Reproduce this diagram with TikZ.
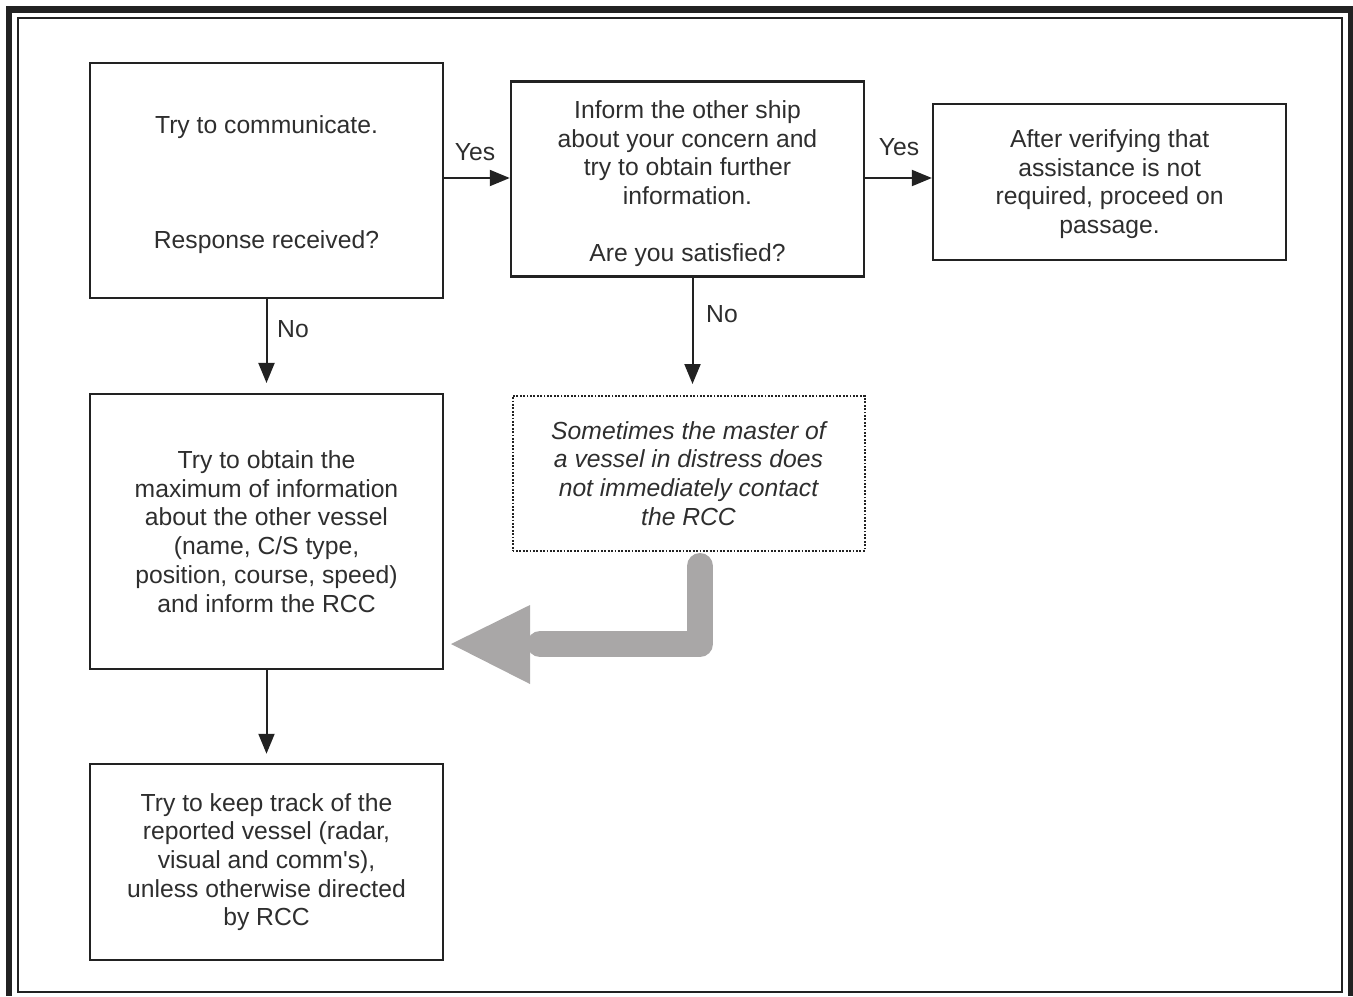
\documentclass[tikz,border=0pt]{standalone}
\usepackage{fontspec}
\setmainfont{Liberation Sans}[Ligatures=TeXOff]
\usetikzlibrary{arrows.meta}
\definecolor{ink}{HTML}{222222}
\definecolor{txt}{HTML}{2E2E2E}
\definecolor{bigarrow}{HTML}{A9A7A7}
\newcommand{\lowerby}[1]{\rule{0pt}{#1}}
\tikzset{
  flowbox/.style={draw=ink, line width=1.25pt, align=center, text=txt, inner sep=0pt,
    font=\fontsize{12.35pt}{14.35pt}\selectfont},
  notebox/.style={flowbox, line width=1pt, dash pattern=on 0.9pt off 0.8pt,
    font=\fontsize{12.35pt}{14.35pt}\selectfont\itshape},
  flowarrow/.style={draw=ink, line width=1pt, -{Triangle[length=10pt,width=8pt]}},
  lbl/.style={text=txt, inner sep=0pt, font=\fontsize{12.35pt}{14.35pt}\selectfont}
}
\begin{document}
\begin{tikzpicture}[x=0.5pt,y=-0.5pt]
\useasboundingbox (0,0) rectangle (1353,996);
% frame
\fill[ink] (6,6) rectangle (1353,12.5);
\fill[ink] (6,6) rectangle (12.3,996);
\fill[ink] (1347.8,6) rectangle (1353,996);
\draw[ink, line width=0.7pt] (18,18) rectangle (1342,992);
% boxes
\node[flowbox, minimum width=176.5pt, minimum height=117.5pt] (b1) at (266.5,180.5)
  {\lowerby{12.9pt}Try to communicate.\\[43.05pt]Response received?};
\node[flowbox, minimum width=176.5pt, minimum height=97.5pt] (b2) at (687.5,179.2)
  {\lowerby{13.5pt}Inform the other ship\\about your concern and\\try to obtain further\\information.\\[14.35pt]Are you satisfied?};
\node[flowbox, minimum width=176.5pt, minimum height=78pt] (b3) at (1109.6,182)
  {\lowerby{11pt}After verifying that\\assistance is not\\required, proceed on\\passage.};
\node[flowbox, minimum width=176.5pt, minimum height=137.3pt] (b4) at (266.5,531.5)
  {Try to obtain the\\maximum of information\\about the other vessel\\(name, C/S type,\\position, course, speed)\\and inform the RCC};
\node[notebox, minimum width=176pt, minimum height=77.5pt] (b5) at (688.5,473.5)
  {Sometimes the master of\\a vessel in distress does\\not immediately contact\\the RCC};
\node[flowbox, minimum width=176.5pt, minimum height=98pt] (b6) at (266.5,862)
  {Try to keep track of the\\reported vessel (radar,\\visual and comm's),\\unless otherwise directed\\by RCC};
% connectors
\draw[flowarrow] (b1.east |- 0,178) -- (b2.west |- 0,178);
\draw[flowarrow] (b2.east |- 0,178) -- (b3.west |- 0,178);
\draw[flowarrow, shorten >=5pt] (b1.south) -- (b4.north);
\draw[flowarrow, shorten >=5.5pt] (b2.south -| 692.5,0) -- (b5.north -| 692.5,0);
\draw[flowarrow, shorten >=4.5pt] (b4.south) -- (b6.north);
% labels
\node[lbl] (y1) at (475,152) {Yes};
\node[lbl] (y2) at (899,147) {Yes};
\node[lbl] (n1) at (293,329) {No};
\node[lbl] (n2) at (722,314) {No};
% big grey arrow from note to box 4
\coordinate (ga1) at (700,566);
\coordinate (ga2) at (700,644);
\coordinate (ga3) at (540,644);
\draw[bigarrow, line width=13pt, line cap=round, line join=round] (ga1) -- (ga2) -- (ga3);
\fill[bigarrow] (530,605) -- (451,644) -- (530,684) -- cycle;
\end{tikzpicture}
\end{document}
